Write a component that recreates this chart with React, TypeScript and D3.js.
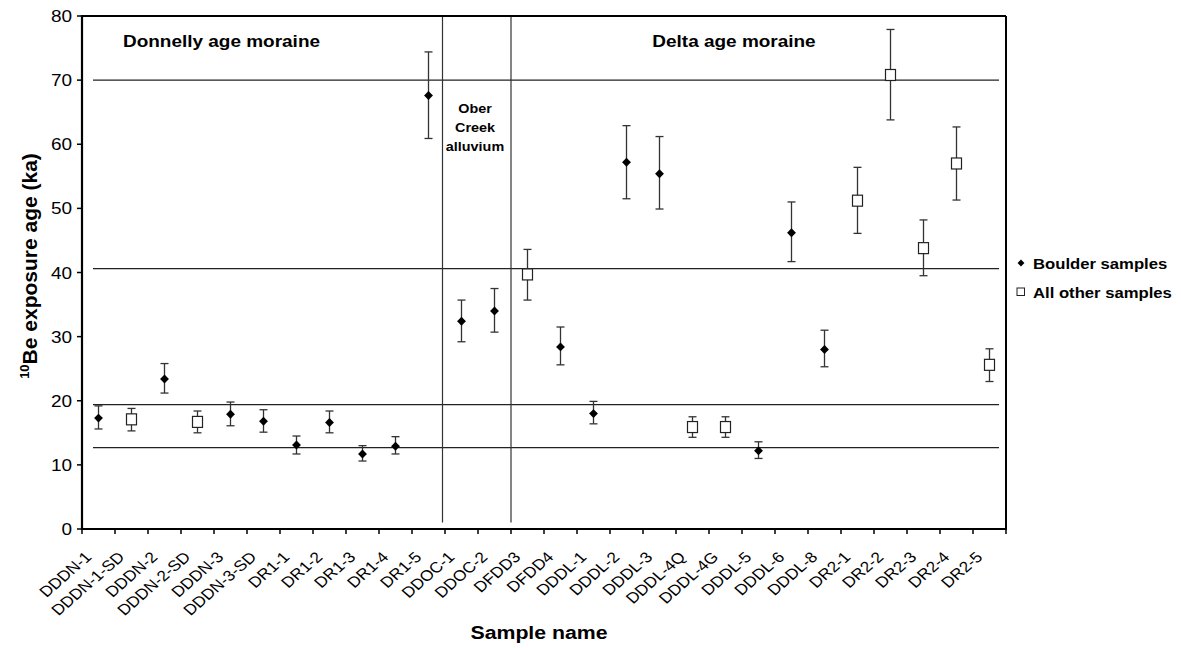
import React, { useEffect } from 'react';
import * as d3 from 'd3';

// sample names along the x axis
const samples = [
  'DDDN-1', 'DDDN-1-SD', 'DDDN-2', 'DDDN-2-SD', 'DDDN-3', 'DDDN-3-SD',
  'DR1-1', 'DR1-2', 'DR1-3', 'DR1-4', 'DR1-5', 'DDOC-1', 'DDOC-2',
  'DFDD3', 'DFDD4', 'DDDL-1', 'DDDL-2', 'DDDL-3', 'DDDL-4Q', 'DDDL-4G',
  'DDDL-5', 'DDDL-6', 'DDDL-8', 'DR2-1', 'DR2-2', 'DR2-3', 'DR2-4', 'DR2-5',
];
// 10Be exposure ages (ka)
const ages = [
  17.3, 17.1, 23.4, 16.7, 17.9, 16.8, 13.1, 16.6, 11.7, 12.9, 67.6, 32.4, 34.0,
  39.7, 28.4, 18.0, 57.2, 55.4, 15.9, 15.9, 12.2, 46.2, 28.0, 51.2, 70.8, 43.8, 57.0, 25.6,
];
const ageLow = [
  15.6, 15.3, 21.2, 15.0, 16.1, 15.1, 11.7, 15.0, 10.6, 11.7, 60.9, 29.2, 30.7,
  35.7, 25.6, 16.4, 51.5, 49.9, 14.3, 14.3, 11.0, 41.7, 25.3, 46.1, 63.8, 39.5, 51.3, 23.0,
];
const ageHigh = [
  19.2, 18.8, 25.8, 18.4, 19.8, 18.6, 14.5, 18.4, 13.0, 14.4, 74.4, 35.7, 37.5,
  43.6, 31.5, 19.9, 62.9, 61.2, 17.5, 17.5, 13.6, 51.0, 31.0, 56.4, 77.9, 48.2, 62.7, 28.1,
];
// true = boulder sample (diamond), false = other sample (open square)
const isBoulder = [
  true, false, true, false, true, true, true, true, true, true, true, true, true,
  false, true, true, true, true, false, false, true, true, true, false, false, false, false, false,
];
const yTicks = [0, 10, 20, 30, 40, 50, 60, 70, 80];
const refLines = [70, 40.6, 19.4, 12.7];
const dividers = [11, 13]; // category boundaries

const W = 1181;
const H = 648;
const left = 82, right = 1006, top = 16, bottom = 529;
const font = '"Liberation Sans", Arial, Helvetica, sans-serif';
const SX = 1.15; // the original figure's text looks a bit wide

// horizontal text, slightly stretched
const T = ({ x, y, size, anchor = 'start', bold = false, children }: any) => (
  <text
    transform={`translate(${x},${y}) scale(${SX},1)`}
    textAnchor={anchor}
    fontSize={size}
    fontWeight={bold ? 'bold' : 'normal'}
  >
    {children}
  </text>
);

export default function App() {
  useEffect(() => {
    document.body.style.margin = '0';
  }, []);

  const x = d3.scaleBand<string>().domain(samples).range([left, right]).padding(0);
  const y = d3.scaleLinear().domain([0, 80]).range([bottom, top]);
  const bw = x.bandwidth();
  const cx = (i: number) => (x(samples[i]) as number) + bw / 2;

  const diamond = d3.symbol().type(d3.symbolDiamond2).size(50)();
  const legendDiamond = d3.symbol().type(d3.symbolDiamond2).size(30)();

  return (
    <svg width={W} height={H} style={{ display: 'block', background: '#fff' }} fontFamily={font}>
      {/* reference lines */}
      {refLines.map((v) => (
        <line key={v} x1={left + 11} x2={right - 7} y1={y(v)} y2={y(v)} stroke="#222" strokeWidth={1.2} />
      ))}
      {/* section dividers */}
      {dividers.map((d, k) => {
        const xx = left + d * bw - (k === 0 ? 2.5 : 0);
        return <line key={d} x1={xx} x2={xx} y1={top} y2={y(1)} stroke="#333" strokeWidth={1.2} />;
      })}

      {/* frame */}
      <line x1={left} x2={right} y1={top} y2={top} stroke="#000" strokeWidth={2} />
      <line x1={right} x2={right} y1={top} y2={bottom} stroke="#000" strokeWidth={2} />
      <line x1={left} x2={left} y1={top - 1} y2={bottom + 1} stroke="#000" strokeWidth={2.2} />
      <line x1={left} x2={right + 1} y1={bottom} y2={bottom} stroke="#000" strokeWidth={2.2} />

      {/* y ticks */}
      {yTicks.map((t) => (
        <g key={t}>
          <line x1={left - 5} x2={left} y1={y(t)} y2={y(t)} stroke="#000" strokeWidth={1.5} />
          <T x={left - 10} y={y(t) + 6} size={16.5} anchor="end">{t}</T>
        </g>
      ))}

      {/* x ticks and labels */}
      {d3.range(samples.length + 1).map((i) => (
        <line key={i} x1={left + i * bw} x2={left + i * bw} y1={bottom} y2={bottom + 5} stroke="#000" strokeWidth={1.5} />
      ))}
      {samples.map((s, i) => (
        <text
          key={s}
          transform={`translate(${cx(i) - 6},${bottom + 29}) scale(${SX},1) rotate(-45)`}
          textAnchor="end"
          fontSize={15}
        >
          {s}
        </text>
      ))}

      {/* error bars */}
      {samples.map((s, i) => (
        <g key={s} stroke="#333" strokeWidth={1.3}>
          <line x1={cx(i)} x2={cx(i)} y1={y(ageLow[i])} y2={y(ageHigh[i])} />
          <line x1={cx(i) - 4} x2={cx(i) + 4} y1={y(ageLow[i])} y2={y(ageLow[i])} />
          <line x1={cx(i) - 4} x2={cx(i) + 4} y1={y(ageHigh[i])} y2={y(ageHigh[i])} />
        </g>
      ))}

      {/* points */}
      {samples.map((s, i) =>
        isBoulder[i] ? (
          <path key={s} d={diamond as string} transform={`translate(${cx(i)},${y(ages[i])})`} fill="#000" />
        ) : (
          <rect key={s} x={cx(i) - 5} y={y(ages[i]) - 5.5} width={10} height={11} fill="#fff" stroke="#222" strokeWidth={1.2} />
        )
      )}

      {/* annotations */}
      <T x={123} y={47} size={16.5} bold>Donnelly age moraine</T>
      <T x={734} y={47} size={16.5} bold anchor="middle">Delta age moraine</T>
      <T x={475} y={113} size={12.5} bold anchor="middle">Ober</T>
      <T x={475} y={132} size={12.5} bold anchor="middle">Creek</T>
      <T x={475} y={151} size={12.5} bold anchor="middle">alluvium</T>

      {/* axis titles */}
      <T x={539} y={639} size={18.5} bold anchor="middle">Sample name</T>
      <text transform="translate(37,266) rotate(-90)" textAnchor="middle" fontSize={21} fontWeight="bold">
        <tspan fontSize={13} dy={-8}>10</tspan>
        <tspan dy={8}>Be exposure age (ka)</tspan>
      </text>

      {/* legend */}
      <path d={legendDiamond as string} transform="translate(1021,263)" fill="#000" />
      <T x={1033} y={269} size={14.5} bold>Boulder samples</T>
      <rect x={1017} y={288} width={7.5} height={7.5} fill="#fff" stroke="#222" strokeWidth={1} />
      <T x={1033} y={298} size={14.5} bold>All other samples</T>
    </svg>
  );
}
